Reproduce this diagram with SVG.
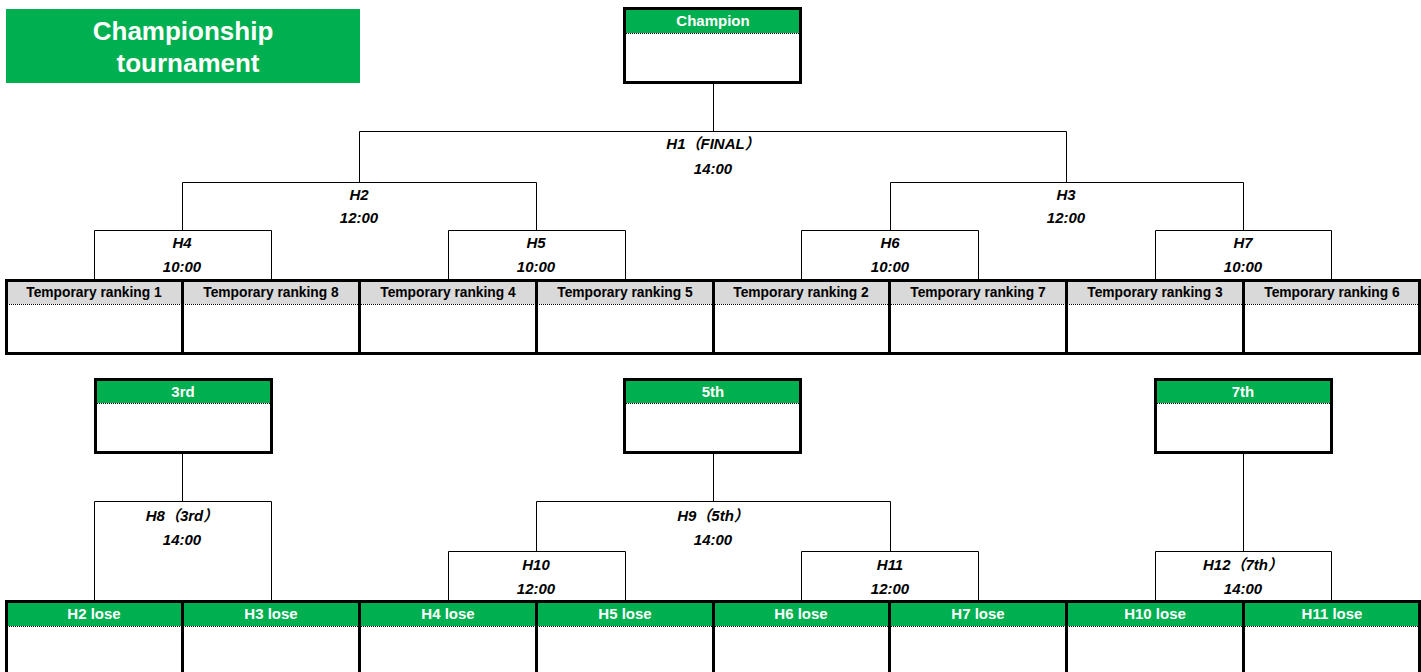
<svg xmlns="http://www.w3.org/2000/svg" width="1421" height="672" viewBox="0 0 1421 672">
<style>
.box{fill:#fff;stroke:#000;stroke-width:3}
.frame{fill:none;stroke:#000;stroke-width:3}
.gh{fill:#00B050}
.gr{fill:#D9D9D9}
.dot{stroke:#000;stroke-width:1;stroke-dasharray:1 1}
.ht{font-family:"Liberation Sans","Noto Sans CJK JP",sans-serif;font-weight:bold;font-size:15px;fill:#fff;text-anchor:middle}
.tt{font-family:"Liberation Sans","Noto Sans CJK JP",sans-serif;font-weight:bold;font-size:13.8px;fill:#000;text-anchor:middle}
.lb{font-family:"Liberation Sans","Noto Sans CJK JP",sans-serif;font-weight:bold;font-style:italic;font-size:15px;fill:#000;text-anchor:middle}
.cn{fill:none;stroke:#000;stroke-width:1}
</style>
<g id="title">
<rect x="6" y="9" width="354" height="74" fill="#00B050"/>
<text x="183" y="40" font-family="Liberation Sans, sans-serif" font-weight="bold" font-size="26" fill="#fff" text-anchor="middle">Championship</text>
<text x="188" y="72" font-family="Liberation Sans, sans-serif" font-weight="bold" font-size="26" fill="#fff" text-anchor="middle">tournament</text>
</g>
<g id="connectors">
<path class="cn" d="M713.5 83V131.5M359.5 182V131.5H1066.5V182"/>
<path class="cn" d="M182.5 230V182.5H536.5V230M890.5 230V182.5H1243.5V230"/>
<path class="cn" d="M94.5 279V230.5H271.5V279M448.5 279V230.5H625.5V279M801.5 279V230.5H978.5V279M1155.5 279V230.5H1331.5V279"/>
<path class="cn" d="M182.5 453V501.5M94.5 601V501.5H271.5V601"/>
<path class="cn" d="M713.5 453V501.5M536.5 551V501.5H890.5V551M448.5 601V551.5H625.5V601M801.5 601V551.5H978.5V601"/>
<path class="cn" d="M1243.5 453V551.5M1155.5 601V551.5H1331.5V601"/>
</g>
<g id="labels">
<text class="lb" x="713" y="149">H1（FINAL）</text><text class="lb" x="713" y="174">14:00</text>
<text class="lb" x="359" y="200">H2</text><text class="lb" x="359" y="223">12:00</text>
<text class="lb" x="1066" y="200">H3</text><text class="lb" x="1066" y="223">12:00</text>
<text class="lb" x="182" y="248">H4</text><text class="lb" x="182" y="272">10:00</text>
<text class="lb" x="536" y="248">H5</text><text class="lb" x="536" y="272">10:00</text>
<text class="lb" x="890" y="248">H6</text><text class="lb" x="890" y="272">10:00</text>
<text class="lb" x="1243" y="248">H7</text><text class="lb" x="1243" y="272">10:00</text>
<text class="lb" x="182" y="521">H8（3rd）</text><text class="lb" x="182" y="545">14:00</text>
<text class="lb" x="713" y="521">H9（5th）</text><text class="lb" x="713" y="545">14:00</text>
<text class="lb" x="536" y="570">H10</text><text class="lb" x="536" y="594">12:00</text>
<text class="lb" x="890" y="570">H11</text><text class="lb" x="890" y="594">12:00</text>
<text class="lb" x="1243" y="570">H12（7th）</text><text class="lb" x="1243" y="594">14:00</text>
</g>
<g id="champion">
<rect class="box" x="624.5" y="8.5" width="176" height="74"/>
<rect class="gh" x="626" y="10" width="173" height="23"/>
<line class="dot" x1="626" y1="33.5" x2="799" y2="33.5"/>
<text class="ht" x="713" y="26">Champion</text>
</g>
<g id="third">
<rect class="box" x="95.5" y="379.5" width="176" height="73"/>
<rect class="gh" x="97" y="381" width="173" height="22"/>
<line class="dot" x1="97" y1="403.5" x2="270" y2="403.5"/>
<text class="ht" x="183" y="397">3rd</text>
</g>
<g id="fifth">
<rect class="box" x="624.5" y="379.5" width="176" height="73"/>
<rect class="gh" x="626" y="381" width="173" height="22"/>
<line class="dot" x1="626" y1="403.5" x2="799" y2="403.5"/>
<text class="ht" x="713" y="397">5th</text>
</g>
<g id="seventh">
<rect class="box" x="1155.5" y="379.5" width="176" height="73"/>
<rect class="gh" x="1157" y="381" width="173" height="22"/>
<line class="dot" x1="1157" y1="403.5" x2="1330" y2="403.5"/>
<text class="ht" x="1243" y="397">7th</text>
</g>
<g id="rank-row">
<rect x="7" y="281" width="1412" height="72" fill="#fff"/>
<rect class="gr" x="7" y="281" width="1412" height="23"/>
<line class="dot" x1="7" y1="304.5" x2="1419" y2="304.5"/>
<rect class="frame" x="6.5" y="280.5" width="1413" height="73"/>
<path stroke="#000" stroke-width="3" d="M182.5 280V354M359.5 280V354M536.5 280V354M713.5 280V354M889.5 280V354M1066.5 280V354M1243.5 280V354"/>
</g>
<g id="tr1"><text class="tt" x="94" y="297">Temporary ranking 1</text></g>
<g id="tr8"><text class="tt" x="271" y="297">Temporary ranking 8</text></g>
<g id="tr4"><text class="tt" x="448" y="297">Temporary ranking 4</text></g>
<g id="tr5"><text class="tt" x="625" y="297">Temporary ranking 5</text></g>
<g id="tr2"><text class="tt" x="801" y="297">Temporary ranking 2</text></g>
<g id="tr7"><text class="tt" x="978" y="297">Temporary ranking 7</text></g>
<g id="tr3"><text class="tt" x="1155" y="297">Temporary ranking 3</text></g>
<g id="tr6"><text class="tt" x="1332" y="297">Temporary ranking 6</text></g>
<g id="lose-row">
<rect class="gh" x="7" y="603" width="1412" height="23"/>
<line class="dot" x1="7" y1="626.5" x2="1419" y2="626.5"/>
<rect class="frame" x="6.5" y="601.5" width="1413" height="80"/>
<path stroke="#000" stroke-width="3" d="M182.5 602V680M359.5 602V680M536.5 602V680M713.5 602V680M889.5 602V680M1066.5 602V680M1243.5 602V680"/>
</g>
<g id="l2"><text class="ht" x="94" y="619">H2 lose</text></g>
<g id="l3"><text class="ht" x="271" y="619">H3 lose</text></g>
<g id="l4"><text class="ht" x="448" y="619">H4 lose</text></g>
<g id="l5"><text class="ht" x="625" y="619">H5 lose</text></g>
<g id="l6"><text class="ht" x="801" y="619">H6 lose</text></g>
<g id="l7"><text class="ht" x="978" y="619">H7 lose</text></g>
<g id="l10"><text class="ht" x="1155" y="619">H10 lose</text></g>
<g id="l11"><text class="ht" x="1332" y="619">H11 lose</text></g>
</svg>
